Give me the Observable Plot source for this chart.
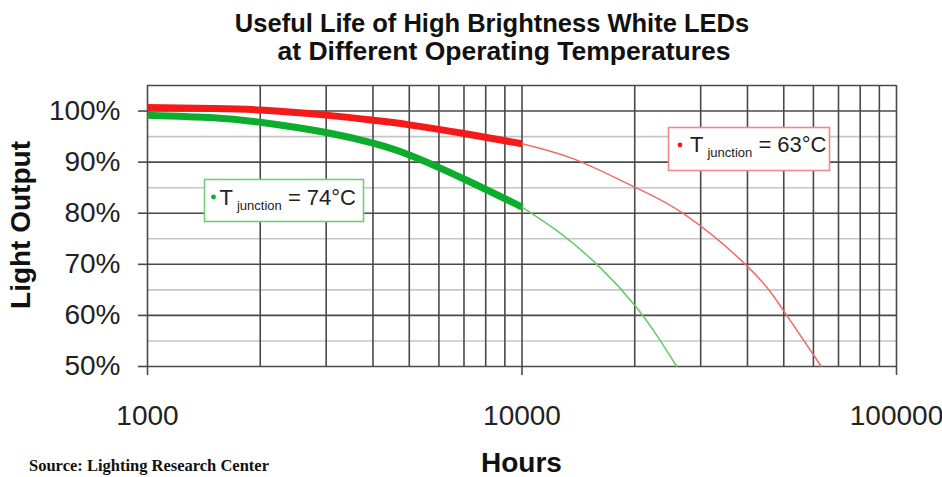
<!DOCTYPE html>
<html><head><meta charset="utf-8">
<script src="https://cdn.jsdelivr.net/npm/d3@7"></script>
<script src="https://cdn.jsdelivr.net/npm/@observablehq/plot@0.6"></script>
<style>
body{margin:0;background:#fff;}
#wrap{position:relative;width:942px;height:477px;overflow:hidden;background:#fff}
</style></head><body>
<div id="wrap"></div>
<script>
// ---- Data ----
const titleLines = ["Useful Life of High Brightness White LEDs", "at Different Operating Temperatures"];
const yLabel = "Light Output";
const xLabel = "Hours";
const source = "Source: Lighting Research Center";

// 63°C curve (red): measured portion (thick) and extrapolation (thin)
const redThickHours  = [1000, 1500, 2000, 3000, 4000, 5000, 7000, 10000];
const redThickValues = [100.7, 100.5, 100.2, 99.2, 98.2, 97.3, 95.6, 93.6];
const redThinHours   = [10000, 14000, 20000, 27000, 40000, 50000, 63000];
const redThinValues  = [93.6, 90.4, 85.1, 79.9, 69.6, 60.9, 50];

// 74°C curve (green)
const greenThickHours  = [1000, 1500, 2000, 3000, 4000, 5000, 7000, 10000];
const greenThickValues = [99.2, 98.7, 97.8, 95.8, 93.7, 91.4, 86.7, 81.2];
const greenThinHours   = [10000, 12700, 16200, 20000, 23000, 25900];
const greenThinValues  = [81.2, 76.0, 69.3, 62.0, 55.9, 50];

// Axis ticks and grid
const xTicks = [1000, 10000, 100000];
const xGrid = [1000, 2000, 3000, 4000, 5000, 6000, 7000, 8000, 9000,
               10000, 20000, 30000, 40000, 50000, 60000, 70000, 80000, 90000, 100000];
const yTicks = [50, 60, 70, 80, 90, 100];
const yMajorGrid = [50, 60, 70, 80, 90, 100, 105];
const yMinorGrid = [55, 65, 75, 85, 95];

const legendRed = {label: "T", sub: "junction", rest: " = 63°C"};
const legendGreen = {label: "T", sub: "junction", rest: " = 74°C"};

// ---- Build tables ----
const toRows = (hs, vs) => hs.map((h, i) => ({h, v: vs[i]}));
const redThick = toRows(redThickHours, redThickValues);
const redThin = toRows(redThinHours, redThinValues);
const greenThick = toRows(greenThickHours, greenThickValues);
const greenThin = toRows(greenThinHours, greenThinValues);

const gridDark = "#4a4a4a";
const gridLight = "#c6c6c6";

const chart = Plot.plot({
  width: 942,
  height: 477,
  marginLeft: 147,
  marginRight: 46,
  marginTop: 85,
  marginBottom: 111,
  style: {fontFamily: "'Liberation Sans', Arial, sans-serif", fontSize: "28px", color: "#222", background: "#fff", overflow: "visible"},
  x: {type: "log", domain: [1000, 100000]},
  y: {domain: [50, 105]},
  marks: [
    Plot.ruleY(yMinorGrid, {stroke: gridLight, strokeWidth: 1.6}),
    Plot.ruleY(yMajorGrid, {stroke: gridDark, strokeWidth: 1.6}),
    Plot.ruleX(xGrid, {stroke: gridDark, strokeWidth: 1.6}),
    Plot.axisX(xTicks, {tickSize: 9, tickPadding: 30, tickFormat: d => String(d), stroke: gridDark, strokeWidth: 1.6, label: null, fill: "#222"}),
    Plot.axisY(yTicks, {tickSize: 9, tickPadding: 18, tickFormat: d => d + "%", stroke: gridDark, strokeWidth: 1.6, label: null, fill: "#222"}),
    Plot.line(redThin, {x: "h", y: "v", stroke: "#f06a6a", strokeWidth: 1.5, curve: "natural"}),
    Plot.line(greenThin, {x: "h", y: "v", stroke: "#5fcc6a", strokeWidth: 1.5, curve: "natural"}),
    Plot.line(redThick, {x: "h", y: "v", stroke: "#f41a1a", strokeWidth: 7, strokeLinecap: "butt", curve: "natural"}),
    Plot.line(greenThick, {x: "h", y: "v", stroke: "#0cad2c", strokeWidth: 7, strokeLinecap: "butt", curve: "natural"})
  ]
});

document.getElementById("wrap").appendChild(chart);
const svg = d3.select(chart);

// Titles and labels
const sans = "'Liberation Sans', Arial, sans-serif";
svg.append("text").attr("x", 492).attr("y", 31.5).attr("text-anchor", "middle")
  .attr("font-family", sans).attr("font-weight", "bold").attr("font-size", 25.5).attr("fill", "#111").text(titleLines[0]);
svg.append("text").attr("x", 504).attr("y", 59.5).attr("text-anchor", "middle")
  .attr("font-family", sans).attr("font-weight", "bold").attr("font-size", 26.5).attr("fill", "#111").text(titleLines[1]);
svg.append("text").attr("transform", "translate(30,225) rotate(-90)").attr("text-anchor", "middle")
  .attr("font-family", sans).attr("font-weight", "bold").attr("font-size", 28).attr("fill", "#111").text(yLabel);
svg.append("text").attr("x", 521.5).attr("y", 471.5).attr("text-anchor", "middle")
  .attr("font-family", sans).attr("font-weight", "bold").attr("font-size", 28).attr("fill", "#111").text(xLabel);
svg.append("text").attr("x", 29).attr("y", 470.5).attr("text-anchor", "start")
  .attr("font-family", "'Liberation Serif', 'Times New Roman', serif").attr("font-weight", "bold").attr("font-size", 16.5).attr("fill", "#111").text(source);

// Legend boxes
function legend(box, dot, tx, ty, color, border, L) {
  const g = svg.append("g");
  g.append("rect").attr("x", box[0]).attr("y", box[1]).attr("width", box[2]).attr("height", box[3])
    .attr("fill", "#fff").attr("stroke", border).attr("stroke-width", 1.6);
  g.append("circle").attr("cx", dot[0]).attr("cy", dot[1]).attr("r", 2.4).attr("fill", color);
  const t = g.append("text").attr("x", tx).attr("y", ty).attr("text-anchor", "start")
    .attr("font-family", sans).attr("font-size", 22).attr("fill", "#222");
  t.append("tspan").text(L.label);
  t.append("tspan").attr("dx", 4).attr("dy", 5).attr("font-size", 13).text(L.sub);
  t.append("tspan").attr("dy", -5).text(L.rest);
}
legend([668.5, 127.5, 161, 43], [680, 145], 690, 152, "#f41a1a", "#f08a8a", legendRed);
legend([204.5, 179.5, 159, 42], [213.5, 197], 219.5, 205, "#0cad2c", "#6fcf78", legendGreen);
</script>
</body></html>
